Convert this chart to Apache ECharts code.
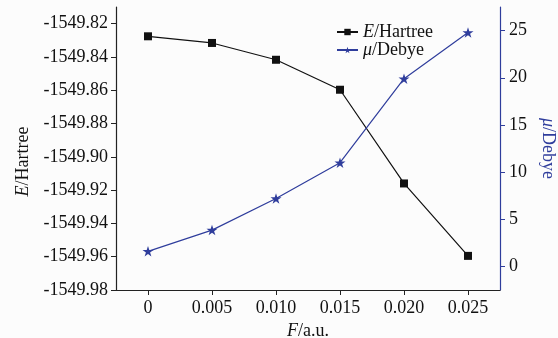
<!DOCTYPE html>
<html>
<head>
<meta charset="utf-8">
<script src="https://cdn.jsdelivr.net/npm/echarts@6/dist/echarts.min.js"></script>
<style>
html,body{margin:0;padding:0;background:#fcfcfc;}
#c{width:558px;height:338px;}
</style>
</head>
<body>
<div id="c"></div>
<script>
// Data
var fieldValues = [0, 0.005, 0.010, 0.015, 0.020, 0.025];
var energyValues = [-1549.8276, -1549.8316, -1549.8417, -1549.8597, -1549.9160, -1549.9595];
var dipoleValues = [1.6, 3.85, 7.2, 11.0, 19.9, 24.8];
var xTicks = [0, 0.005, 0.010, 0.015, 0.020, 0.025];
var energyTicks = [-1549.98, -1549.96, -1549.94, -1549.92, -1549.90, -1549.88, -1549.86, -1549.84, -1549.82];
var dipoleTicks = [0, 5, 10, 15, 20, 25];
var seriesNames = ['E/Hartree', 'μ/Debye'];

var BLUE = '#2f3d9c';
var FONT = '"Liberation Serif", "Times New Roman", serif';
var FS = 18;
var STAR = 'path://M50 0 L61.17 34.63 L97.55 34.55 L68.07 55.87 L79.39 90.45 L50 69 L20.61 90.45 L31.93 55.87 L2.45 34.55 L38.83 34.63 Z';

function pairs(xs, ys) { return xs.map(function (x, i) { return [x, ys[i]]; }); }

var chart = echarts.init(document.getElementById('c'));
var txt = {fontFamily: FONT, fontSize: FS, color: '#111'};
chart.setOption({
  backgroundColor: '#fcfcfc',
  animation: false,
  textStyle: {fontFamily: FONT},
  grid: {left: 116, right: 58, top: 7, bottom: 48, containLabel: false, outerBoundsMode: 'none'},
  legend: {
    orient: 'vertical', left: 331, top: 18, itemWidth: 21, itemHeight: 8, itemGap: 0,
    data: [{name: seriesNames[0]}, {name: seriesNames[1]}],
    formatter: function (n) {
      return n === seriesNames[0] ? '{i|E}/Hartree' : '{i|μ}/Debye';
    },
    textStyle: {fontFamily: FONT, fontSize: FS, color: '#111', lineHeight: 17,
      rich: {i: {fontFamily: FONT, fontSize: FS, fontStyle: 'italic', color: '#111'}}}
  },
  xAxis: {
    type: 'value', min: -0.0025, max: 0.0275,
    name: '{i|F}/a.u.', nameLocation: 'middle', nameGap: 32,
    nameTextStyle: {fontFamily: FONT, fontSize: FS, color: '#111',
      rich: {i: {fontFamily: FONT, fontSize: FS, fontStyle: 'italic', color: '#111'}}},
    axisLine: {onZero: false, lineStyle: {color: '#222', width: 1.2}},
    axisTick: {show: true, length: 5, customValues: xTicks, lineStyle: {color: '#222'}},
    axisLabel: Object.assign({margin: 9, customValues: xTicks,
      formatter: function (v) { return v === 0 ? '0' : v.toFixed(3); }}, txt),
    splitLine: {show: false}
  },
  yAxis: [{
    type: 'value', min: -1549.98, max: -1549.81, position: 'left',
    name: '{i|E}/Hartree', nameLocation: 'middle', nameGap: 83, nameRotate: 90,
    nameTextStyle: {fontFamily: FONT, fontSize: FS, color: '#111', padding: [0, 26, 0, 0],
      rich: {i: {fontFamily: FONT, fontSize: FS, fontStyle: 'italic', color: '#111'}}},
    axisLine: {show: true, onZero: false, lineStyle: {color: '#222', width: 1.2}},
    axisTick: {show: true, length: 5, customValues: energyTicks, lineStyle: {color: '#222'}},
    axisLabel: Object.assign({margin: 8, customValues: energyTicks,
      formatter: function (v) { return v.toFixed(2); }}, txt),
    splitLine: {show: false}
  }, {
    type: 'value', min: -2.5, max: 27.5, position: 'right',
    name: '{i|μ}/Debye', nameLocation: 'middle', nameGap: 39, nameRotate: -90,
    nameTextStyle: {fontFamily: FONT, fontSize: FS, color: BLUE,
      rich: {i: {fontFamily: FONT, fontSize: FS, fontStyle: 'italic', color: BLUE}}},
    axisLine: {show: true, onZero: false, lineStyle: {color: BLUE, width: 1.2}},
    axisTick: {show: true, length: 5, customValues: dipoleTicks, lineStyle: {color: BLUE}},
    axisLabel: Object.assign({margin: 9, customValues: dipoleTicks}, txt),
    splitLine: {show: false}
  }],
  series: [{
    name: seriesNames[0], type: 'line', yAxisIndex: 0,
    data: pairs(fieldValues, energyValues),
    symbol: 'rect', symbolSize: 8,
    lineStyle: {color: '#111', width: 1.2},
    itemStyle: {color: '#111'}
  }, {
    name: seriesNames[1], type: 'line', yAxisIndex: 1,
    data: pairs(fieldValues, dipoleValues),
    symbol: STAR, symbolSize: [11, 10.5],
    lineStyle: {color: BLUE, width: 1.2},
    itemStyle: {color: BLUE}
  }]
});
</script>
</body>
</html>
